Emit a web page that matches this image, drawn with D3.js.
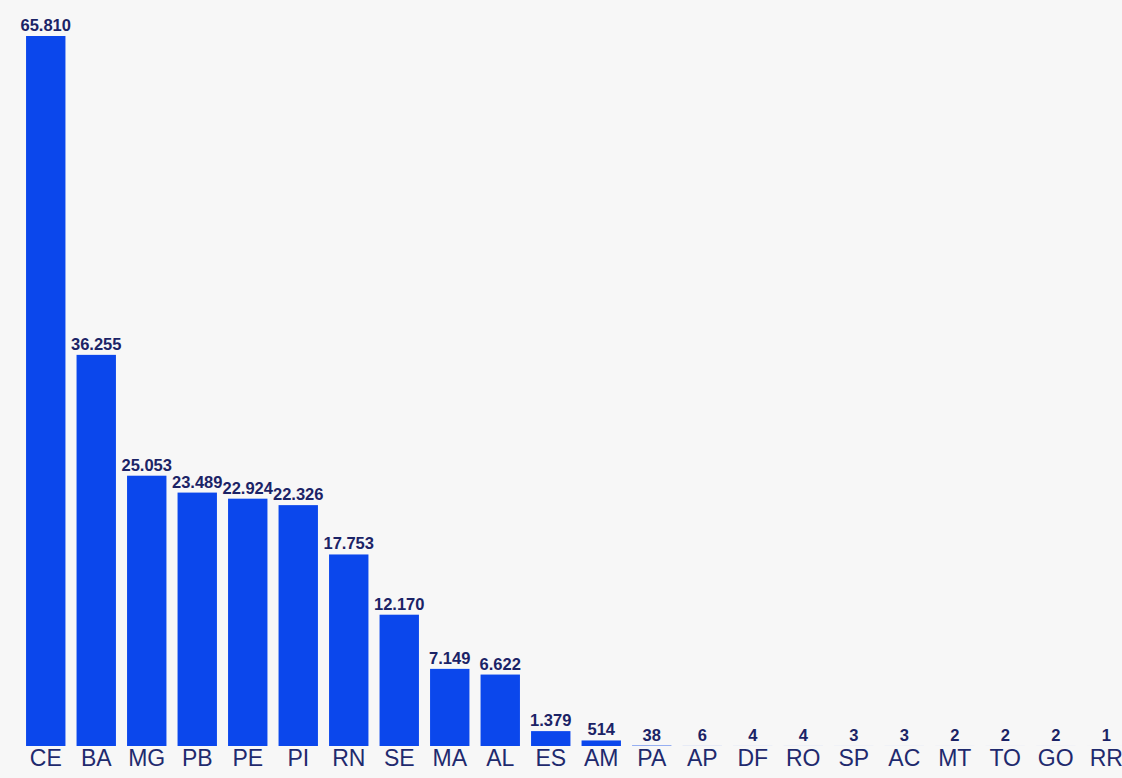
<!DOCTYPE html>
<html>
<head>
<meta charset="utf-8">
<script src="https://cdn.jsdelivr.net/npm/d3@7"></script>
<style>
	html, body { margin: 0; padding: 0; background: #f7f7f7; }
	svg { display: block; }
</style>
</head>
<body>
<div id="chart"></div>
<script>
var states = ['CE', 'BA', 'MG', 'PB', 'PE', 'PI', 'RN', 'SE', 'MA', 'AL', 'ES',
	'AM', 'PA', 'AP', 'DF', 'RO', 'SP', 'AC', 'MT', 'TO', 'GO', 'RR'];
var counts = [65810, 36255, 25053, 23489, 22924, 22326, 17753, 12170, 7149, 6622, 1379,
	514, 38, 6, 4, 4, 3, 3, 2, 2, 2, 1];

var w = 1122, h = 778;
var fmt = d3.formatLocale({ decimal: ',', thousands: '.', grouping: [3], currency: ['', ''] }).format(',d');

var svg = d3.select('#chart')
	.append('svg')
	.attr('width', w)
	.attr('height', h);

svg.append('rect')
	.attr('width', w)
	.attr('height', h)
	.attr('fill', '#f7f7f7');

//band scale across the width, value scale from baseline up
var x = d3.scaleBand()
	.domain(states)
	.range([21, 1131])
	.paddingInner(0.22)
	.paddingOuter(0.1);

var y = d3.scaleLinear()
	.domain([0, 65810])
	.range([746, 36]);

var data = states.map(function (s, i) { return { state: s, value: counts[i] }; });

svg.selectAll('rect.bar')
	.data(data)
	.enter()
		.append('rect')
		.attr('class', 'bar')
		.attr('x', function (d) { return x(d.state); })
		.attr('y', function (d) { return y(d.value); })
		.attr('width', x.bandwidth())
		.attr('height', function (d) { return y(0) - y(d.value); })
		.attr('fill', '#0b47ec');

svg.selectAll('text.val')
	.data(data)
	.enter()
		.append('text')
		.attr('class', 'val')
		.attr('x', function (d) { return x(d.state) + x.bandwidth() / 2; })
		.attr('y', function (d) { return y(d.value) - 5; })
		.attr('text-anchor', 'middle')
		.attr('font-family', 'Liberation Sans, Arial, sans-serif')
		.attr('font-weight', 'bold')
		.attr('font-size', 16.5)
		.attr('fill', '#1b2366')
		.text(function (d) { return fmt(d.value); });

var xAxis = d3.axisBottom(x).tickSize(0).tickPadding(4);
var gx = svg.append('g')
	.attr('transform', 'translate(0,' + y(0) + ')')
	.call(xAxis);
gx.select('.domain').remove();
gx.selectAll('text')
	.attr('dy', '0.71em')
	.attr('font-family', 'Liberation Sans, Arial, sans-serif')
	.attr('font-size', 23)
	.attr('fill', '#1f2a6e');
</script>
</body>
</html>
